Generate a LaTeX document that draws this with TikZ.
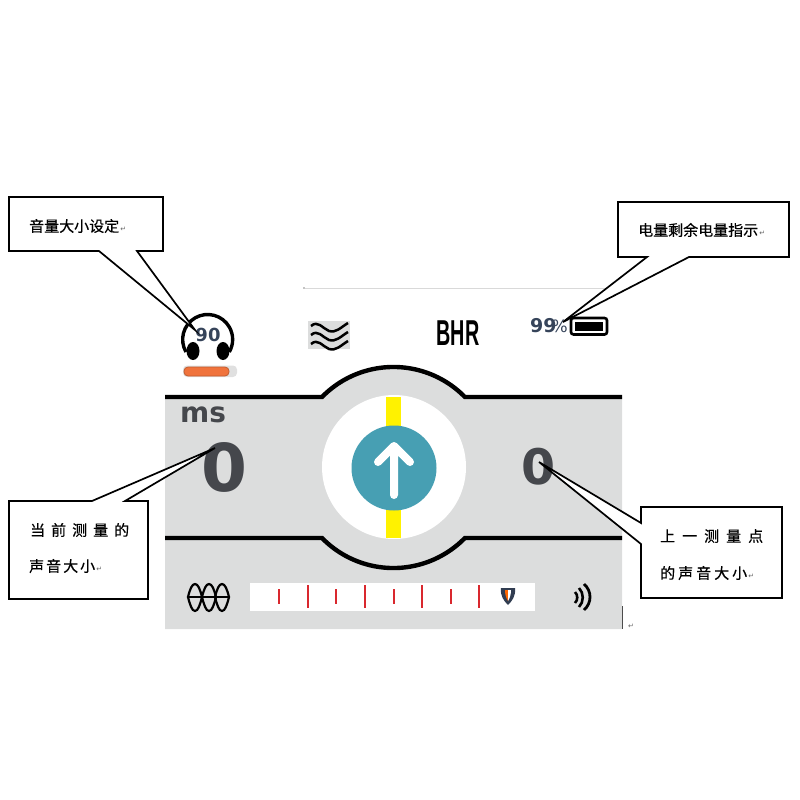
\documentclass[tikz,border=0pt]{standalone}
\usepackage{graphicx}
\usepackage{fontspec}
\setmainfont{DejaVu Sans}
\newfontfamily\markfont{DejaVu Sans}
\newfontfamily\cjk[FakeBold=0.5]{Noto Sans CJK SC}
\newfontfamily\lib{Liberation Sans}
\definecolor{panelgray}{HTML}{DCDDDD}
\definecolor{tealc}{HTML}{479FB3}
\definecolor{yellowc}{HTML}{FFF200}
\definecolor{digit}{HTML}{45474C}
\definecolor{slate}{HTML}{36445A}
\definecolor{orangec}{HTML}{F0733C}
\definecolor{tick}{HTML}{D9282E}
\newcommand{\parmark}{{\markfont\fontsize{7}{7}\selectfont\color{black!60}\,↵}}
\newcommand{\fs}[1]{\fontsize{#1}{#1}\selectfont}
\tikzset{
  callout/.style={draw=black,fill=white,line width=1.7pt,line join=miter},
  cjklabel/.style={anchor=west,inner sep=0pt,font=\cjk\fs{15}},
  tickshort/.style={draw=tick,line width=2pt},
  ticklong/.style={draw=tick,line width=2.2pt},
  heavy/.style={draw=black,line width=4.4pt},
  iconline/.style={draw=black,line width=2.2pt,line cap=round},
  numeral/.style={inner sep=0pt,text=digit}
}
\begin{document}
\begin{tikzpicture}[x=1pt,y=1pt,yscale=-1]
\useasboundingbox (0,0) rectangle (800,800);
% panel
\fill[panelgray] (165,397) -- (322,397) arc[start angle=224.4,end angle=315.6,radius=100] -- (622,397) -- (622,629) -- (165,629) -- cycle;
\fill[white] (394,467) circle[radius=72];
\fill[yellowc] (386,397) rectangle (401,538);
\fill[tealc] (394,468) circle[radius=42.5];
\draw[white,line width=8pt,line cap=round,line join=round] (394,495) -- (394,446) (378,462) -- (394,446) -- (410,462);
\draw[heavy] (165,397) -- (322,397) arc[start angle=224.4,end angle=315.6,radius=100] -- (622,397);
\draw[heavy] (165,538) -- (322,538) arc[start angle=135.6,end angle=44.4,radius=100] -- (622,538);
% top line
\draw[black!15,line width=.7pt] (305,288) -- (605,288);
\fill[black] (304,288) circle[radius=.7];
% headphones
\draw[black,line width=3.4pt] (186,352) arc[start angle=150,end angle=390,radius=25];
\fill[black] (193,351) ellipse[x radius=6.5,y radius=9];
\fill[black] (223,351) ellipse[x radius=6.5,y radius=9];
\node[inner sep=0pt,text=slate,font=\bfseries\fs{18}] (vol) at (208,335) {90};
% slider
\fill[black!12,rounded corners=4pt] (183,365.5) rectangle (237,377);
\draw[fill=orangec,draw=orangec!80!black,line width=.8pt,rounded corners=4pt] (184,367) rectangle (229,376);
% waves icon
\fill[panelgray] (308,321) rectangle (350,349);
\foreach \dy in {0,9,18}{
  \draw[black,line width=2.5pt] (311,326+\dy) .. controls (318,320+\dy) and (322,328+\dy) .. (329,331+\dy) .. controls (336,333+\dy) and (340,328+\dy) .. (348,323+\dy);
}
% BHR
\node[inner sep=0pt,font=\lib\bfseries\fs{36},text=black] (bhr) at (458,333) {\scalebox{.55}[1]{BHR}};
% battery
\node[inner sep=0pt,anchor=west,text=slate,font=\bfseries\fs{19}] (pct) at (530,326) {99\kern-5pt\mdseries\fs{17}\%};
\draw[black,fill=white,line width=2.6pt,rounded corners=2.5pt] (571,318) rectangle (607,334.5);
\fill[black] (575,322) rectangle (603,331);
% numbers
\node[numeral,font=\bfseries\fs{28}] (ms) at (203,415) {ms};
\node[numeral,font=\bfseries\fs{66}] (big) at (224,467) {0};
\node[numeral,font=\bfseries\fs{49}] (small) at (539,467) {0};
% bottom scale
\fill[white] (250,583) rectangle (535,611);
\foreach \x in {279,336,394,451}{\draw[tickshort] (\x,589) -- (\x,604);}
\foreach \x in {308,365,422,479}{\draw[ticklong] (\x,585) -- (\x,608);}
% shield marker
\fill[slate!90!black] (501,588) -- (515,588) .. controls (516,596) and (512,601) .. (508,605) .. controls (504,601) and (500,596) .. (501,588) -- cycle;
\fill[orange!80!red] (505,590) -- (508,590) -- (508,601) .. controls (506,598) and (505,594) .. (505,590) -- cycle;
\fill[white] (508,590) -- (511,590) .. controls (511,594) and (510,598) .. (508,601) -- cycle;
% lens icon
\foreach \x in {188,202,215}{
  \draw[black,line width=2.2pt] (\x,597) .. controls (\x+2,589) and (\x+4,584) .. (\x+7,584) .. controls (\x+10,584) and (\x+12,589) .. (\x+14,597) .. controls (\x+12,605) and (\x+10,611) .. (\x+7,611) .. controls (\x+4,611) and (\x+2,605) .. (\x,597) -- cycle;
}
\draw[iconline] (188,597) -- (229,597);
% sound icon
\draw[black,line width=2.6pt] (575,592) .. controls (578,595) and (578,600) .. (575,603);
\draw[black,line width=2.6pt] (579,588) .. controls (584,593) and (584,602) .. (579,607);
\draw[black,line width=2.8pt] (584,584) .. controls (592,591) and (592,603) .. (584,610);
% cursor
\draw[black!70,line width=.7pt] (622,606) -- (622,629);
\node[inner sep=0pt,font=\fs{7},text=black!60] (endmark) at (631,626) {↵};
% callouts
\draw[callout] (9,197) -- (163,197) -- (163,251) -- (137,251) -- (195,330) -- (99,251) -- (9,251) -- cycle;
\node[cjklabel] (t1) at (29,226) {音量大小设定\parmark};
\draw[callout] (618,202) -- (789,202) -- (789,257) -- (689,257) -- (563,322) -- (647,257) -- (618,257) -- cycle;
\node[cjklabel] (t2) at (638,230) {电量剩余电量指示\parmark};
\draw[callout] (9,501) -- (92,501) -- (215,448) -- (125,501) -- (148,501) -- (148,599) -- (9,599) -- cycle;
\node[cjklabel] (t3) at (30,530) {当\kern6pt前\kern6pt测\kern6pt量\kern6pt的};
\node[cjklabel] (t4) at (29,566) {声\kern2pt音\kern2pt大\kern2pt小\parmark};
\draw[callout] (641,507) -- (782,507) -- (782,598) -- (641,598) -- (641,544) -- (539,462) -- (641,523) -- cycle;
\node[cjklabel] (t5) at (660,536) {上\kern7pt一\kern7pt测\kern7pt量\kern7pt点};
\node[cjklabel] (t6) at (660,573) {的\kern3pt声\kern3pt音\kern3pt大\kern3pt小\parmark};
\end{tikzpicture}
\end{document}
